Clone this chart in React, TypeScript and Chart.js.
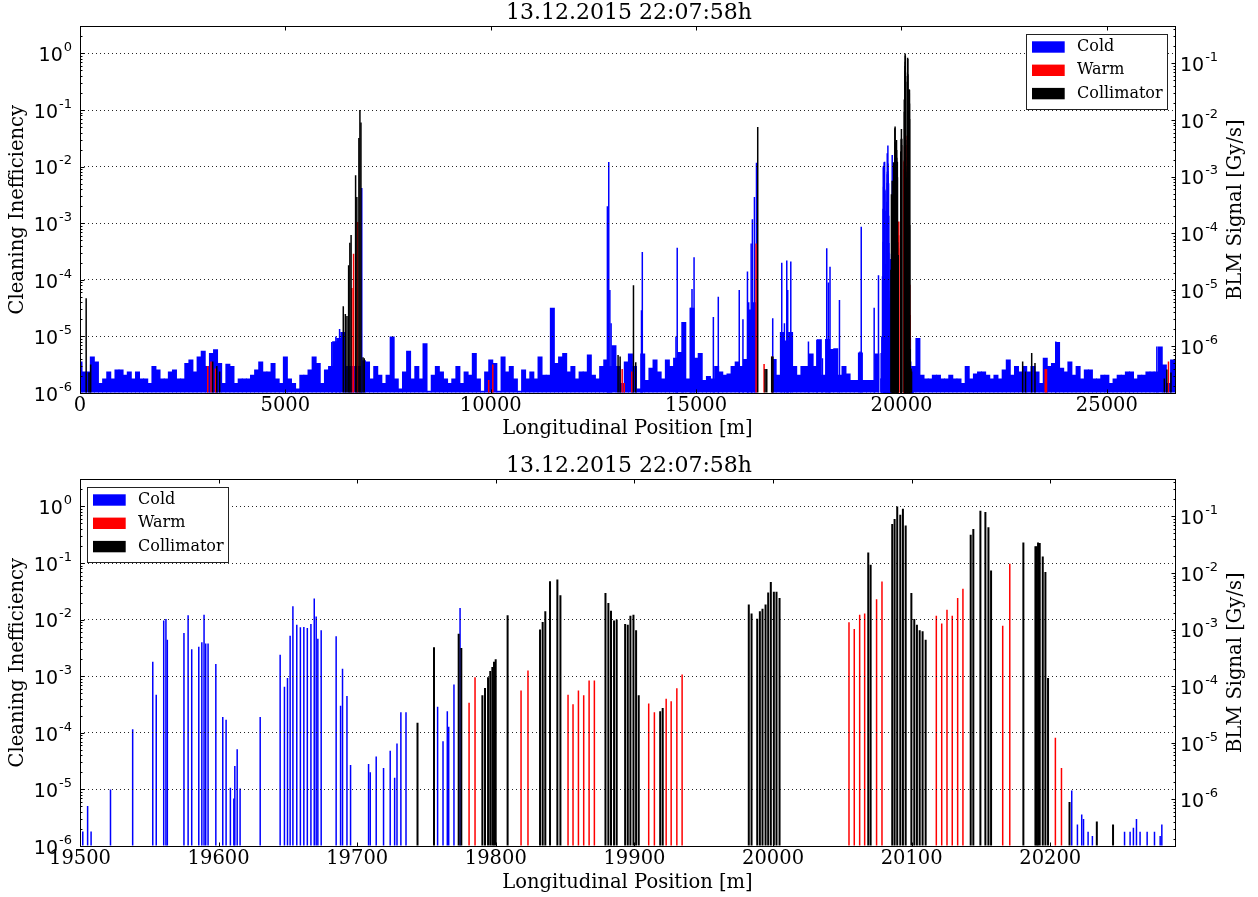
import React, { useEffect, useRef } from 'react';
import { Chart, registerables } from 'chart.js';

Chart.register(...registerables);

const FONT = '"DejaVu Serif", "Liberation Serif", serif';
const MATH_FONT = '"DejaVu Sans", "Liberation Sans", sans-serif';
const TITLE = '13.12.2015 22:07:58h';
const X_LABEL = 'Longitudinal Position [m]';
const Y_LABEL = 'Cleaning Inefficiency';
const Y2_LABEL = 'BLM Signal [Gy/s]';
const LEGEND_LABELS = ['Cold', 'Warm', 'Collimator'];
const COLORS = ['#0000ff', '#ff0000', '#000000'];

// axis ticks
const yDecades = [1e-6, 1e-5, 1e-4, 1e-3, 1e-2, 1e-1, 1e0];
const y2Decades = [1e-6, 1e-5, 1e-4, 1e-3, 1e-2, 1e-1];
const ringTicks = [0, 5000, 10000, 15000, 20000, 25000];
const zoomTicks = [19500, 19600, 19700, 19800, 19900, 20000, 20100, 20200];
const RING_MAX = 26659;
const ZOOM_MIN = 19500;
const ZOOM_MAX = 20290;

// Cold-magnet loss floor over the ring, one reading per 100 m (values in units of 1e-6)
const coldFloorStart = 0;
const coldFloorStep = 100;
const coldFloorMicro: (number | null)[] = [
  3.6, 2.4, 2.4, 4.4, 3.6, 1.5, 1.8, 2.4, 1.8, 2.6,
  2.6, 2.1, 2.4, 1.8, 2.4, 1.8, 1.8, 1.5, 3.0, 2.6,
  1.8, 1.8, 2.4, 2.6, 1.8, 1.8, 3.4, 3.9, 2.4, 4.4,
  5.6, 3.0, 5.1, 5.9, 3.4, 1.5, 3.3, 3.0, 1.5, 1.8,
  1.8, 1.8, 2.1, 2.6, 3.6, 2.4, 2.4, 3.4, 1.8, 1.5,
  4.4, 1.8, 1.5, 1.2, 2.1, 2.1, 2.6, 4.4, 3.4, 1.5,
  2.6, 3.0, 8.2, 9.4, 12, 3.0, 3.0, 3.0, 3.0, 3.8,
  3.6, 1.8, 3.0, 2.1, 1.5, 2.1, 10, 1.8, 1.2, 2.4,
  5.6, 1.8, 3.0, 1.8, 7.6, 1.1, 2.1, 3.0, 2.4, 1.8,
  1.5, 1.8, 3.0, 1.5, 2.4, 2.1, 5.1, 1.8, 1.1, 2.4,
  3.9, 3.4, 1.1, 4.4, 2.4, 3.0, 1.8, 1.1, 2.6, 1.8,
  2.4, 1.8, 4.4, 2.1, 2.1, 32, 3.4, 4.4, 5.1, 2.4,
  3.0, 1.8, 2.4, 2.4, 4.8, 2.1, 1.8, 3.0, 3.9, 3.0,
  7.0, 3.0, 1.5, 3.6, 5.0, 3.0, 1.2, 5.0, 1.7, 2.8,
  3.9, 2.4, 1.8, 3.9, 3.0, 4.2, 5.3, 18, 1.8, 32,
  4.2, 5.1, 1.7, 2.0, 1.8, 3.0, 2.4, 2.1, 2.2, 3.0,
  3.6, 3.0, 4.0, 30, 40, null, null, null, null, 4.0,
  2.1, 12, 8.5, 12, 3.0, 2.1, 3.0, 3.0, 5.0, 3.0,
  8.9, 2.1, 9.0, 6.0, 6.2, 2.1, 3.0, 2.2, 1.7, 1.7,
  5.2, 1.7, 1.7, 1.7, 5.0, null, null, null, null, null,
  null, null, null, 3.0, 9.4, 2.1, 1.8, 1.8, 2.1, 2.1,
  1.8, 1.8, 2.1, 1.8, 1.8, 1.5, 3.0, 1.8, 2.2, 2.4,
  2.4, 2.1, 1.8, 2.1, 1.8, 2.6, 3.9, 2.1, 3.0, 2.4,
  3.0, 2.4, 3.0, 2.4, 1.5, 4.2, 3.0, 3.4, 8.0, 2.8,
  2.4, 3.6, 2.1, 3.0, 1.8, 2.6, 2.6, 1.8, 1.8, 2.1,
  2.1, 1.5, 1.8, 2.1, 2.1, 2.4, 2.4, 1.8, 2.1, 2.1,
  2.4, 2.4, 2.4, 6.6, 3.2, 1.5, 3.9,
];

type Pt = [number, number];

// Ring-wide peaks outside the zoomed region [position m, value]
const coldRing: Pt[] = [
  [6130, 8e-6], [6230, 1e-5], [6320, 1.35e-5], [6860, 4.2e-3],
  [12840, 2e-3], [12873, 1.2e-2], [12900, 6.6e-5], [12930, 1.7e-5],
  [13670, 2.9e-5], [13690, 3.1e-4], [14510, 1e-5], [14540, 3.7e-4], [14680, 1.8e-5],
  [14870, 3.2e-5], [14900, 6.9e-5], [14950, 2.5e-4], [15420, 2.2e-5], [15540, 5e-5],
  [16050, 6.6e-5], [16140, 2e-5], [16250, 1.4e-4], [16280, 4e-5], [16340, 4.4e-4],
  [16370, 1.17e-3], [16420, 2.9e-3], [16470, 1.17e-2], [16865, 2.1e-5],
  [17085, 2e-4], [17150, 1.7e-5], [17207, 2.2e-4], [17230, 6.6e-5], [17305, 2.1e-4],
  [17735, 8.1e-6], [17940, 8.7e-6], [18075, 4.1e-6], [18180, 3.6e-4], [18220, 9e-5],
  [18260, 1.7e-4], [18490, 4.4e-5], [18990, 5.4e-6], [19020, 8.7e-4], [19335, 3.2e-5],
  [19440, 1.2e-4], [23757, 8.1e-6], [26217, 6.6e-6],
];
const warmRing: Pt[] = [
  [3110, 3.0e-6], [3190, 3.6e-6], [3300, 2.7e-6], [6620, 7.2e-5], [6660, 2.9e-4], [6760, 1.05e-3],
  [9950, 1.7e-6], [10050, 3.2e-6], [13200, 2.65e-6], [13250, 1.5e-6], [13435, 2.4e-6],
  [16460, 4.4e-4], [16655, 3.25e-6], [16850, 4.4e-6], [23500, 2.65e-6], [23530, 2.65e-6],
  [26500, 3.6e-6],
];
const collRing: Pt[] = [
  [150, 4.7e-5], [220, 2.3e-6], [260, 3.2e-6], [3230, 3.6e-6], [3330, 3.0e-6], [3400, 2.4e-6],
  [6410, 3.4e-5], [6460, 2.5e-5], [6500, 2.3e-5], [6540, 1.8e-4], [6570, 4.5e-4], [6600, 6.2e-4],
  [6710, 7e-3], [6740, 2.9e-3], [6790, 3.2e-2], [6815, 1.0e-1], [6840, 6e-2], [6890, 4.3e-6],
  [6920, 4.1e-6], [13100, 4.7e-6], [13150, 4.4e-6], [13475, 8e-5], [13530, 3.5e-6],
  [16500, 5e-2], [16680, 2.65e-6], [16720, 2.65e-6], [16840, 4.4e-6], [16870, 4.4e-6],
  [22950, 3.6e-6], [23020, 2.4e-6], [23170, 5.1e-6], [23250, 3.4e-6],
  [26400, 1.8e-6], [26460, 2.6e-6], [26560, 2.3e-6],
];

// Zoomed region 19500-20290 m (shown in both panels)
const coldZoom: Pt[] = [
  [19502, 1.8e-6], [19505.5, 5.1e-6], [19508, 1.8e-6], [19522, 1.0e-5], [19538, 1.15e-4],
  [19552.5, 1.8e-3], [19555, 4.7e-4], [19560.4, 9.6e-3], [19562, 1.03e-2], [19563, 4.4e-3],
  [19575, 5.8e-3], [19578, 1.19e-2], [19580.6, 3.0e-3], [19585.7, 3.3e-3], [19587.9, 4.0e-3],
  [19589.5, 1.22e-2], [19590.7, 3.8e-3], [19592.4, 3.8e-3], [19598, 1.64e-3], [19603, 1.9e-4],
  [19605.4, 1.7e-4], [19608.5, 1.07e-5], [19611, 6.9e-6], [19611.7, 2.6e-5], [19613.4, 5.1e-5],
  [19615.5, 1.04e-5], [19630, 1.9e-4], [19644.4, 2.4e-3], [19647.5, 6.5e-4], [19649.7, 9.3e-4],
  [19651.6, 5.2e-3], [19653.6, 1.72e-2], [19656.4, 8.1e-3], [19659, 7.3e-3], [19661.5, 7.4e-3],
  [19664, 7.1e-3], [19666.6, 8.4e-3], [19669, 2.35e-2], [19670.4, 1.13e-2], [19671.6, 4.6e-3],
  [19674, 6.5e-3], [19684.8, 5.1e-3], [19688, 3.0e-4], [19689.4, 1.36e-3], [19692.6, 4.45e-4],
  [19695.2, 2.7e-5], [19708.2, 2.8e-5], [19709.4, 2e-5], [19713.7, 3.8e-5], [19719, 2.4e-5],
  [19723.8, 4.8e-5], [19727, 1.6e-5], [19728.7, 6.5e-5], [19731.5, 2.3e-4], [19735.2, 2.3e-4],
  [19758, 2.9e-4], [19761.9, 7.1e-5], [19765, 2.4e-4], [19766, 1.28e-4], [19769.8, 7.1e-4],
  [19774.2, 1.6e-2], [20215.5, 9.6e-6], [20219.6, 2.4e-6], [20222.7, 3.6e-6], [20224, 3e-6],
  [20227.3, 1.78e-6], [20230.4, 1.5e-6], [20253.6, 1.78e-6], [20257.6, 1.78e-6], [20260, 2.1e-6],
  [20262.2, 3e-6], [20264.8, 1.78e-6], [20269.9, 1.78e-6], [20275.2, 1.78e-6], [20279.3, 1.5e-6],
  [20280.5, 2.4e-6],
];
const warmZoom: Pt[] = [
  [19780.7, 3.4e-4], [19785, 9.6e-4], [19818.2, 5.6e-4], [19823.2, 1.26e-3], [19852.1, 4.7e-4],
  [19855.7, 3.2e-4], [19859.6, 5.6e-4], [19863.4, 4.6e-4], [19867.3, 8.4e-4], [19871.1, 8.4e-4],
  [19910.3, 3.3e-4], [19914.4, 2.3e-4], [19922.9, 4.0e-4], [19926.5, 3.6e-4], [19930.6, 6.1e-4],
  [19934.4, 1.07e-3], [20054.8, 9.0e-3], [20058.6, 6.8e-3], [20062.5, 1.22e-2], [20066.1, 1.28e-2],
  [20074.7, 2.3e-2], [20078.6, 4.7e-2], [20117.8, 1.17e-2], [20121.7, 8.5e-3], [20125.5, 1.5e-2],
  [20129.3, 1.17e-2], [20133.2, 2.4e-2], [20137, 3.5e-2], [20165.7, 7.8e-3], [20170.8, 9.7e-2],
  [20203.7, 8.2e-5], [20208.1, 2.4e-5],
];
const collZoom: Pt[] = [
  [19743.5, 1.5e-4], [19755.4, 3.25e-3], [19773.2, 5.6e-3], [19775.1, 3.16e-3], [19790.3, 4.6e-4],
  [19792.2, 6.2e-4], [19794.4, 9.6e-4], [19796, 1.23e-3], [19797.5, 1.46e-3], [19798.7, 1.8e-3],
  [19799.9, 2.0e-3], [19808.5, 1.19e-2], [19831.9, 6.7e-3], [19833.8, 9.1e-3], [19835.7, 1.4e-2],
  [19839.1, 4.75e-2], [19844.4, 5.1e-2], [19846.6, 2.7e-2], [19879.1, 2.95e-2], [19881.2, 1.97e-2],
  [19883.1, 1.44e-2], [19885.3, 9.6e-3], [19887.2, 1.0e-2], [19893.3, 8.4e-3], [19895.2, 8.1e-3],
  [19897.1, 1.17e-2], [19899.3, 1.22e-2], [19901.2, 6.5e-3], [19903.1, 4.6e-4], [19918.6, 2.4e-4],
  [19920.4, 2.75e-4], [19982.5, 1.84e-2], [19984.5, 1.28e-2], [19988.6, 1.04e-2], [19990.5, 1.4e-2],
  [19992.4, 1.56e-2], [19994.6, 1.84e-2], [19996.5, 3.0e-2], [19998.4, 4.6e-2], [20000.6, 3.1e-2],
  [20002.5, 3.1e-2], [20004.7, 2.4e-2], [20068.7, 0.154], [20070.4, 9.3e-2], [20086, 0.49],
  [20087.7, 0.6], [20089.6, 1.0], [20091.8, 0.71], [20093.7, 0.91], [20095.7, 0.46],
  [20099.8, 2.95e-2], [20101.9, 1.03e-2], [20103.8, 8.1e-3], [20105.8, 6.5e-3], [20107.9, 6.2e-3],
  [20110.1, 4.4e-3], [20142.6, 0.316], [20144.5, 0.4], [20149.6, 0.84], [20153.2, 0.8],
  [20155.4, 0.43], [20157.3, 7.4e-2], [20180.6, 0.23], [20189.3, 0.197], [20190.2, 0.197],
  [20191.2, 0.23], [20192.4, 0.225], [20194.6, 0.13], [20196.5, 6.9e-2], [20198.4, 9.3e-4],
  [20213.9, 6e-6], [20233.6, 2.7e-6], [20245.3, 2.4e-6],
];

const toXY = (pts: Pt[]) => pts.map(([x, y]) => ({ x, y }));

const floorPoints = coldFloorMicro
  .map((v, i) => (v == null ? null : { x: coldFloorStart + i * coldFloorStep, y: v * 1e-6 }))
  .filter((p) => p !== null) as { x: number; y: number }[];

// draws "10" with a raised exponent, like matplotlib mathtext
function drawPow10(ctx: CanvasRenderingContext2D, v: number, x: number, py: number, align: 'left' | 'right') {
  const e = Math.round(Math.log10(v));
  const exp = String(e);
  const main = `19px ${MATH_FONT}`;
  const sup = `13px ${MATH_FONT}`;
  ctx.font = main;
  const w1 = ctx.measureText('10').width;
  ctx.font = sup;
  const w2 = ctx.measureText(exp).width;
  const gap = 1;
  const x0 = align === 'right' ? x - (w1 + gap + w2) : x;
  const base = py + 7.8;
  ctx.textAlign = 'left';
  ctx.textBaseline = 'alphabetic';
  ctx.fillStyle = '#000';
  ctx.font = main;
  ctx.fillText('10', x0, base);
  ctx.font = sup;
  ctx.fillText(exp, x0 + w1 + gap, base - 10);
}

const mplPlugin = {
  id: 'mpl',
  afterDraw(chart: any, _args: any, opts: any) {
    const { ctx, chartArea: a, scales } = chart;
    const L = Math.floor(a.left) + 0.5;
    const R = Math.floor(a.right) + 0.5;
    const T = Math.floor(a.top) + 0.5;
    const B = Math.floor(a.bottom) + 0.5;
    ctx.save();
    ctx.strokeStyle = '#000';
    ctx.lineWidth = 1;
    ctx.setLineDash([]);
    const line = (x1: number, y1: number, x2: number, y2: number) => {
      ctx.beginPath();
      ctx.moveTo(x1, y1);
      ctx.lineTo(x2, y2);
      ctx.stroke();
    };
    const logTicks = (scale: any, edge: number, dir: number) => {
      const e0 = Math.floor(Math.log10(scale.min));
      const e1 = Math.ceil(Math.log10(scale.max));
      for (let e = e0; e <= e1; e++) {
        for (let k = 1; k < 10; k++) {
          const v = k * Math.pow(10, e);
          if (v < scale.min * 0.999 || v > scale.max * 1.001) continue;
          const py = Math.round(scale.getPixelForValue(v)) + 0.5;
          line(edge, py, edge + dir * (k === 1 ? 4 : 2), py);
        }
      }
    };
    logTicks(scales.y, L, 1);
    logTicks(scales.y2, R, -1);
    for (const t of scales.x.ticks) {
      const px = Math.round(scales.x.getPixelForValue(t.value)) + 0.5;
      line(px, B, px, B - 4);
      line(px, T, px, T + 4);
    }
    ctx.strokeRect(L, T, R - L, B - T);

    // log tick labels
    for (const t of scales.y.ticks) drawPow10(ctx, t.value, a.left - 8, scales.y.getPixelForValue(t.value), 'right');
    for (const t of scales.y2.ticks) drawPow10(ctx, t.value, a.right + 5, scales.y2.getPixelForValue(t.value), 'left');

    // legend
    const w = 141;
    const h = 75;
    const bx = opts.corner === 'tr' ? Math.floor(a.right) - 8 - w : Math.floor(a.left) + 7;
    const by = Math.floor(a.top) + 8;
    ctx.fillStyle = '#fff';
    ctx.fillRect(bx, by, w, h);
    ctx.strokeStyle = '#222';
    ctx.strokeRect(bx + 0.5, by + 0.5, w, h);
    ctx.font = `16px ${FONT}`;
    ctx.textBaseline = 'middle';
    ctx.textAlign = 'left';
    LEGEND_LABELS.forEach((t, i) => {
      const cy = by + 13 + i * 23.3;
      ctx.fillStyle = COLORS[i];
      ctx.fillRect(bx + 6, cy - 5.7, 32.7, 11.4);
      ctx.fillStyle = '#000';
      ctx.fillText(t, bx + 51, cy);
    });

    // right axis title, reading bottom-to-top
    ctx.translate(chart.width - 17, (a.top + a.bottom) / 2);
    ctx.rotate(-Math.PI / 2);
    ctx.font = `19.5px ${FONT}`;
    ctx.textAlign = 'center';
    ctx.textBaseline = 'alphabetic';
    ctx.fillStyle = '#000';
    ctx.fillText(Y2_LABEL, 0, 0);
    ctx.restore();
  },
};

function barDs(label: string, data: { x: number; y: number }[], color: string, thick: number) {
  return {
    label,
    data,
    backgroundColor: color,
    borderWidth: 0,
    barThickness: thick,
    grouped: false,
    inflateAmount: 0,
    base: 1e-6,
    xAxisID: 'x',
    yAxisID: 'y',
  };
}

function buildOptions(
  xMin: number,
  xMax: number,
  xTicks: number[],
  corner: string,
  canvasH: number,
  areaBottom: number,
  xTitlePad: number
) {
  const tickFont = { family: FONT, size: 19.5, lineHeight: 1.2 };
  return {
    responsive: false,
    maintainAspectRatio: false,
    animation: false,
    devicePixelRatio: 1,
    layout: { padding: 0 },
    plugins: {
      legend: { display: false },
      tooltip: { enabled: false },
      title: {
        display: true,
        text: TITLE,
        color: '#000',
        font: { family: FONT, size: 22, weight: 'normal', lineHeight: 1.2 },
        padding: { top: 0, bottom: 0 },
      },
      mpl: { corner },
    },
    scales: {
      x: {
        type: 'linear',
        position: 'bottom',
        min: xMin,
        max: xMax,
        offset: false,
        afterBuildTicks: (s: any) => {
          s.ticks = xTicks.map((v) => ({ value: v }));
        },
        afterFit: (s: any) => {
          s.height = canvasH - areaBottom;
        },
        grid: { display: false, drawTicks: false },
        border: { display: false },
        ticks: {
          autoSkip: false,
          maxRotation: 0,
          color: '#000',
          font: tickFont,
          padding: 1,
          callback: (v: any) => String(v),
        },
        title: {
          display: true,
          text: X_LABEL,
          color: '#000',
          font: { family: FONT, size: 19.5, lineHeight: 1.2 },
          padding: { top: 0, bottom: xTitlePad },
        },
      },
      y: {
        type: 'logarithmic',
        position: 'left',
        min: 1e-6,
        max: 3,
        afterBuildTicks: (s: any) => {
          s.ticks = yDecades.map((v) => ({ value: v }));
        },
        afterFit: (s: any) => {
          s.width = 80;
        },
        grid: { color: 'rgba(0,0,0,0.85)', lineWidth: 1, drawTicks: false, z: 1 },
        border: { display: false, dash: [1, 3] },
        ticks: { display: false, autoSkip: false },
        title: {
          display: true,
          text: Y_LABEL,
          color: '#000',
          font: { family: FONT, size: 19.5, lineHeight: 1.2 },
          padding: { top: 6, bottom: 0 },
        },
      },
      y2: {
        type: 'logarithmic',
        position: 'right',
        min: 1.5e-7,
        max: 0.45,
        afterBuildTicks: (s: any) => {
          s.ticks = y2Decades.map((v) => ({ value: v }));
        },
        afterFit: (s: any) => {
          s.width = 83;
        },
        grid: { display: false, drawTicks: false },
        border: { display: false },
        ticks: { display: false, autoSkip: false },
      },
    },
  };
}

const inZoom = (pts: Pt[]) => toXY(pts.filter(([x]) => x >= ZOOM_MIN && x <= ZOOM_MAX));

export default function App() {
  const topRef = useRef<HTMLCanvasElement>(null);
  const botRef = useRef<HTMLCanvasElement>(null);

  useEffect(() => {
    const top = new Chart(topRef.current as HTMLCanvasElement, {
      type: 'bar',
      data: {
        datasets: [
          barDs('Collimator', toXY([...collRing, ...collZoom]), COLORS[2], 1.5),
          barDs('Warm', toXY([...warmRing, ...warmZoom]), COLORS[1], 1.5),
          barDs('Cold', toXY([...coldRing, ...coldZoom]), COLORS[0], 1.5),
          barDs('Cold floor', floorPoints, COLORS[0], 5),
        ],
      },
      options: buildOptions(0, RING_MAX, ringTicks, 'tr', 448, 393, 7.3) as any,
      plugins: [mplPlugin],
    });
    const bottom = new Chart(botRef.current as HTMLCanvasElement, {
      type: 'bar',
      data: {
        datasets: [
          barDs('Collimator', inZoom(collZoom), COLORS[2], 2),
          barDs('Warm', inZoom(warmZoom), COLORS[1], 1.5),
          barDs('Cold', inZoom(coldZoom), COLORS[0], 1.5),
        ],
      },
      options: buildOptions(ZOOM_MIN, ZOOM_MAX, zoomTicks, 'tl', 444, 393, 2.8) as any,
      plugins: [mplPlugin],
    });
    return () => {
      top.destroy();
      bottom.destroy();
    };
  }, []);

  return (
    <div style={{ position: 'absolute', left: 0, top: 0, width: 1258, height: 897, background: '#fff' }}>
      <canvas ref={topRef} width={1258} height={448} style={{ position: 'absolute', left: 0, top: 0 }} />
      <canvas ref={botRef} width={1258} height={444} style={{ position: 'absolute', left: 0, top: 453 }} />
    </div>
  );
}
